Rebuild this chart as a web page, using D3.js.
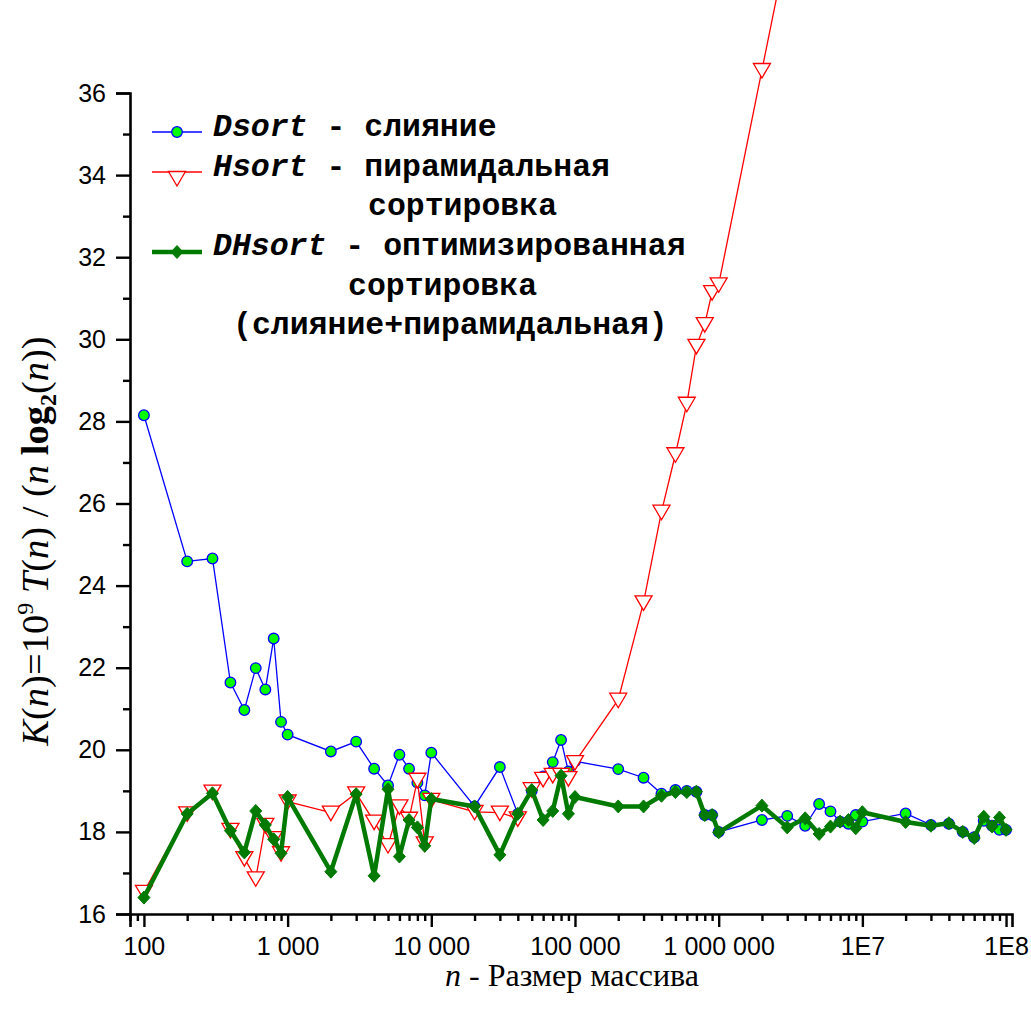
<!DOCTYPE html>
<html><head><meta charset="utf-8">
<script src="https://cdn.jsdelivr.net/npm/d3@7"></script>
<style>
html,body{margin:0;padding:0;background:#fff;}
svg{display:block;}
</style></head>
<body>
<svg id="chart" width="1031" height="1010"></svg>
<script>
// ---------- data ----------
const nValues = [100,200,300,400,500,600,700,800,900,
  1000,2000,3000,4000,5000,6000,7000,8000,9000,
  10000,20000,30000,40000,50000,60000,70000,80000,90000,
  100000,200000,300000,400000,500000,600000,700000,800000,900000,
  1000000,2000000,3000000,4000000,5000000,6000000,7000000,8000000,9000000,
  10000000,20000000,30000000,40000000,50000000,60000000,70000000,80000000,90000000,
  100000000];

const dsortValues = [28.15,24.59,24.66,21.64,20.97,21.99,21.47,22.71,20.68,
  20.37,19.96,20.20,19.54,19.13,19.88,19.54,19.20,18.89,
  19.93,18.62,19.58,18.44,19.00,19.35,19.70,20.24,19.47,
  19.72,19.53,19.32,18.93,19.02,19.00,18.98,18.41,18.41,
  18.00,18.29,18.39,18.15,18.68,18.50,18.25,18.20,18.41,
  18.25,18.45,18.17,18.20,18.00,17.87,18.27,18.15,18.05,
  18.05];

const hsortN = [100,200,300,400,500,600,700,800,900,
  1000,2000,3000,4000,5000,6000,7000,8000,9000,
  10000,20000,30000,40000,50000,60000,70000,80000,90000,
  100000,200000,300000,400000,500000,600000,700000,800000,900000,
  1000000,2000000,3000000];
const hsortValues = [16.54,18.45,18.98,18.05,17.36,16.87,18.17,17.85,17.48,
  18.74,18.47,18.94,18.25,17.68,18.62,18.32,19.27,17.72,
  18.78,18.49,18.47,18.33,19.04,19.29,19.39,19.39,19.31,
  19.70,21.22,23.59,25.80,27.20,28.43,29.84,30.37,31.15,
  31.34,36.56,39.60];

const dhsortValues = [16.40,18.44,18.94,18.03,17.50,18.51,18.17,17.82,17.48,
  18.85,17.03,18.92,16.93,19.04,17.40,18.29,18.11,17.66,
  18.80,18.62,17.44,18.44,19.02,18.29,18.51,19.37,18.44,
  18.85,18.62,18.62,18.88,18.97,18.97,18.98,18.41,18.41,
  17.99,18.64,18.11,18.33,17.95,18.13,18.25,18.29,18.09,
  18.48,18.24,18.15,18.21,18.00,17.85,18.37,18.13,18.35,
  18.05];

const xTickValues = [100,1000,10000,100000,1000000,10000000,100000000];
const xTickLabels = ["100","1 000","10 000","100 000","1 000 000","1E7","1E8"];
const yTickValues = [16,18,20,22,24,26,28,30,32,34,36];
const yMinorValues = [17,19,21,23,25,27,29,31,33,35];

const legendLines = [
  {series:"dsort", rows:[{parts:[["Dsort","italic"],[" - слияние","normal"]], x:213}]},
  {series:"hsort", rows:[{parts:[["Hsort","italic"],[" - пирамидальная","normal"]], x:213},
                         {parts:[["сортировка","normal"]], x:368}]},
  {series:"dhsort", rows:[{parts:[["DHsort","italic"],[" - оптимизированная","normal"]], x:213},
                          {parts:[["сортировка","normal"]], x:348},
                          {parts:[["(слияние+пирамидальная)","normal"]], x:233}]}
];

// ---------- layout ----------
const svg = d3.select("#chart");
const X0 = 130, X1 = 1012, Y0 = 914, Y1 = 93;
const x = d3.scaleLog().domain([80, 1.1e8]).range([X0, X1]);
const y = d3.scaleLinear().domain([16, 36]).range([Y0, Y1]);

const BLUE = "#0000ff", RED = "#ff0000", GREEN = "#007a00", LIME = "#00ff00";

// minor x ticks
const xMinor = [];
for (let e = 1; e <= 8; e++) {
  for (let m = 1; m <= 9; m++) {
    const v = m * Math.pow(10, e);
    if (v >= 80 && v <= 1.1e8 && m !== 1) xMinor.push(v);
  }
}

// ---------- axes ----------
const tickFont = "'Liberation Sans', Arial, sans-serif";

const gxMinor = svg.append("g").attr("transform", `translate(0,${Y0})`)
  .call(d3.axisBottom(x).tickValues(xMinor).tickSize(7).tickFormat(""));
const gx = svg.append("g").attr("transform", `translate(0,${Y0})`)
  .call(d3.axisBottom(x).tickValues(xTickValues).tickSize(13).tickPadding(10)
    .tickFormat((d,i) => xTickLabels[i]));
const gyMinor = svg.append("g").attr("transform", `translate(${X0},0)`)
  .call(d3.axisLeft(y).tickValues(yMinorValues).tickSize(7).tickFormat(""));
const gy = svg.append("g").attr("transform", `translate(${X0},0)`)
  .call(d3.axisLeft(y).tickValues(yTickValues).tickSize(14).tickPadding(10)
    .tickFormat(d3.format("d")));

[gx, gxMinor, gy, gyMinor].forEach(g => {
  g.selectAll("path.domain").attr("stroke", "#000").attr("stroke-width", 2.6);
  g.selectAll(".tick line").attr("stroke", "#000").attr("stroke-width", 2.4);
  g.selectAll("text").attr("font-family", tickFont).attr("font-size", 25).attr("fill", "#000");
});
gxMinor.select("path.domain").remove();
gyMinor.select("path.domain").remove();

// ---------- series ----------
const dsort = nValues.map((n,i) => ({n, v: dsortValues[i]}));
const hsort = hsortN.map((n,i) => ({n, v: hsortValues[i]}));
const dhsort = nValues.map((n,i) => ({n, v: dhsortValues[i]}));

const line = d3.line().x(d => x(d.n)).y(d => y(d.v));

const triPath = "M-8.5,-6.5 L8.5,-6.5 L0,8 Z";
const diaPath = "M0,-6.5 L6,0 L0,6.5 L-6,0 Z";

// Dsort
svg.append("path").datum(dsort).attr("d", line)
  .attr("fill", "none").attr("stroke", BLUE).attr("stroke-width", 1.3);
svg.append("g").selectAll("circle").data(dsort).join("circle")
  .attr("cx", d => x(d.n)).attr("cy", d => y(d.v)).attr("r", 5.3)
  .attr("fill", LIME).attr("stroke", BLUE).attr("stroke-width", 1.3);

// Hsort
svg.append("path").datum(hsort).attr("d", line)
  .attr("fill", "none").attr("stroke", RED).attr("stroke-width", 1.3);
svg.append("g").selectAll("path").data(hsort).join("path")
  .attr("d", triPath)
  .attr("transform", d => `translate(${x(d.n)},${y(d.v)})`)
  .attr("fill", "#fff").attr("stroke", RED).attr("stroke-width", 1.3);

// DHsort
svg.append("path").datum(dhsort).attr("d", line)
  .attr("fill", "none").attr("stroke", GREEN).attr("stroke-width", 4.5)
  .attr("stroke-linejoin", "round");
svg.append("g").selectAll("path").data(dhsort).join("path")
  .attr("d", diaPath)
  .attr("transform", d => `translate(${x(d.n)},${y(d.v)})`)
  .attr("fill", GREEN).attr("stroke", GREEN).attr("stroke-width", 1);

// ---------- legend ----------
const legFont = "'Liberation Mono', 'Courier New', monospace";
const rowBase = [136, 176, 215, 255, 295, 334];
const symY = {dsort: 132, hsort: 172, dhsort: 252};
const lg = svg.append("g");
let row = 0;
legendLines.forEach(item => {
  const sy = symY[item.series];
  if (item.series === "dsort") {
    lg.append("line").attr("x1",152).attr("x2",202).attr("y1",sy).attr("y2",sy)
      .attr("stroke",BLUE).attr("stroke-width",1.3);
    lg.append("circle").attr("cx",177).attr("cy",sy).attr("r",5.3)
      .attr("fill",LIME).attr("stroke",BLUE).attr("stroke-width",1.3);
  } else if (item.series === "hsort") {
    lg.append("line").attr("x1",152).attr("x2",202).attr("y1",sy).attr("y2",sy)
      .attr("stroke",RED).attr("stroke-width",1.3);
    lg.append("path").attr("d",triPath).attr("transform",`translate(177,${sy+6})`)
      .attr("fill","#fff").attr("stroke",RED).attr("stroke-width",1.3);
  } else {
    lg.append("line").attr("x1",152).attr("x2",202).attr("y1",sy).attr("y2",sy)
      .attr("stroke",GREEN).attr("stroke-width",4.5);
    lg.append("path").attr("d",diaPath).attr("transform",`translate(177,${sy})`)
      .attr("fill",GREEN).attr("stroke",GREEN).attr("stroke-width",1);
  }
  item.rows.forEach(r => {
    const t = lg.append("text").attr("x", r.x).attr("y", rowBase[row])
      .attr("font-family", legFont).attr("font-weight", "bold")
      .attr("font-size", 31.5).attr("fill", "#000")
      .style("white-space","pre");
    r.parts.forEach(p => t.append("tspan").attr("font-style", p[1]).text(p[0]));
    row++;
  });
});

// ---------- axis titles ----------
const serif = "'Liberation Serif', 'Times New Roman', serif";
const xt = svg.append("text").attr("x", 572).attr("y", 986)
  .attr("text-anchor","middle").attr("font-family", serif).attr("font-size", 32)
  .attr("fill","#000").style("white-space","pre");
xt.append("tspan").attr("font-style","italic").text("n");
xt.append("tspan").text(" - Размер массива");

const yt = svg.append("text")
  .attr("transform", "translate(48,541) rotate(-90)")
  .attr("text-anchor","middle").attr("font-family", serif).attr("font-size", 38.5)
  .attr("fill","#000").style("white-space","pre");
const ytParts = [
  ["K","italic",null],["(",null,null],["n","italic",null],[")=10",null,null],
  ["9",null,"sup"],[" ",null,null],["T","italic",null],["(",null,null],["n","italic",null],
  [") / (",null,null],["n","italic",null],[" ",null,null],["log","bold",null],["2","bold","sub"],
  ["(",null,null],["n","italic",null],["))",null,null]
];
let shift = 0;
ytParts.forEach(p => {
  const ts = yt.append("tspan").text(p[0]);
  if (p[1] === "italic") ts.attr("font-style","italic");
  if (p[1] === "bold") ts.attr("font-weight","bold");
  let target = 0;
  if (p[2] === "sup") { ts.attr("font-size", 24); target = -15; }
  if (p[2] === "sub") { ts.attr("font-size", 24); target = 8; }
  if (target !== shift) { ts.attr("dy", target - shift); shift = target; }
});
</script>
</body></html>
